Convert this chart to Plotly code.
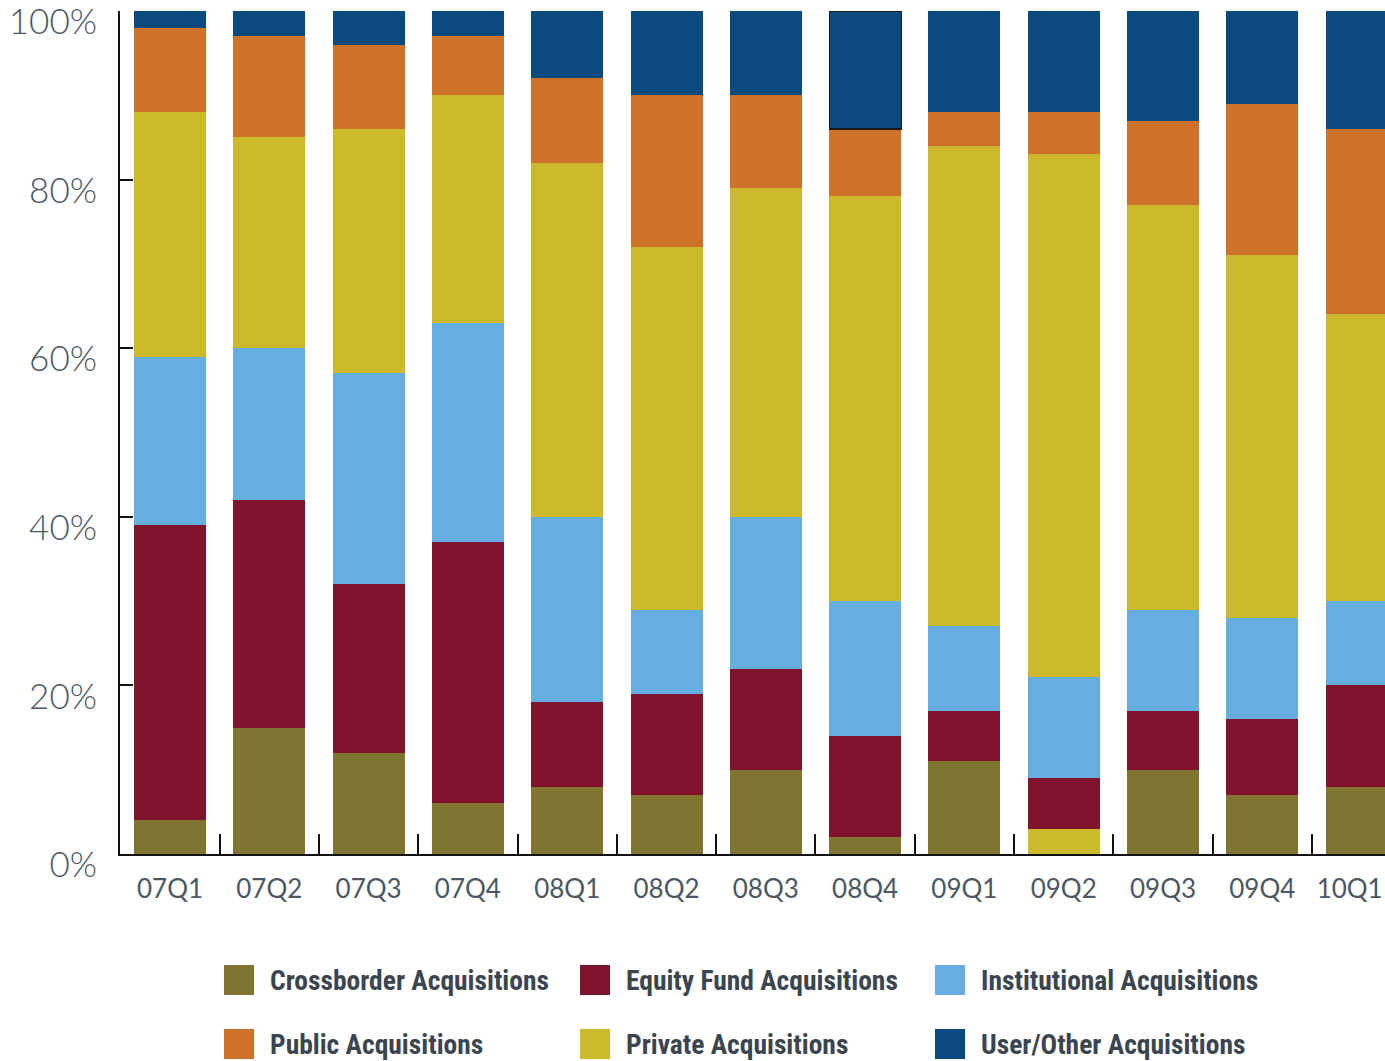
import plotly.graph_objects as go

quarters = ["07Q1", "07Q2", "07Q3", "07Q4", "08Q1", "08Q2", "08Q3", "08Q4",
            "09Q1", "09Q2", "09Q3", "09Q4", "10Q1"]

crossborder = [4, 15, 12, 6, 8, 7, 10, 2, 11, 3, 10, 7, 8]
equity_fund = [35, 27, 20, 31, 10, 12, 12, 12, 6, 6, 7, 9, 12]
institutional = [20, 18, 25, 26, 22, 10, 18, 16, 10, 12, 12, 12, 10]
private = [29, 25, 29, 27, 42, 43, 39, 48, 57, 62, 48, 43, 34]
public = [10, 12, 10, 7, 10, 18, 11, 8, 4, 5, 10, 18, 22]
user_other = [2, 3, 4, 3, 8, 10, 10, 14, 12, 12, 13, 11, 14]

series_names = ["Crossborder Acquisitions", "Equity Fund Acquisitions",
                "Institutional Acquisitions", "Public Acquisitions",
                "Private Acquisitions", "User/Other Acquisitions"]
colors = ["#7f7430", "#7f142c", "#66aee0", "#ce722a", "#cdba2c", "#0b4a7e"]

y_ticks = [0, 20, 40, 60, 80, 100]

W, H = 1385, 1061
L, R, T, B = 120, 0, 11, 207
PW, PH = W - L - R, H - T - B
STEP = 99.3  # px per category in the original

fig = go.Figure()

stack = [
    ("Crossborder Acquisitions", crossborder, colors[0]),
    ("Equity Fund Acquisitions", equity_fund, colors[1]),
    ("Institutional Acquisitions", institutional, colors[2]),
    ("Private Acquisitions", private, colors[4]),
    ("Public Acquisitions", public, colors[3]),
    ("User/Other Acquisitions", user_other, colors[5]),
]
for name, vals, col in stack:
    marker = dict(color=col, line=dict(width=0))
    if name == "Crossborder Acquisitions":
        marker["color"] = [colors[4] if q == "09Q2" else col for q in quarters]
    if name == "User/Other Acquisitions":
        marker["line"] = dict(color="#1a1a1a",
                              width=[1.2 if q == "08Q4" else 0 for q in quarters])
    fig.add_trace(go.Bar(x=quarters, y=vals, name=name, marker=marker,
                         showlegend=False))

def px_x(p):
    return (p - L) / PW

def px_y(p):
    return (H - B - p) / PH

legend_cols = [224, 580, 935]
legend_rows = [980, 1044]
sw = 30
for i, (name, col) in enumerate(zip(series_names, colors)):
    cx = legend_cols[i % 3]
    cy = legend_rows[i // 3]
    fig.add_shape(type="rect", xref="paper", yref="paper",
                  x0=px_x(cx), x1=px_x(cx + sw),
                  y0=px_y(cy - sw / 2), y1=px_y(cy + sw / 2),
                  fillcolor=col, line=dict(width=0))
    fig.add_annotation(text=name, xref="paper", yref="paper",
                       x=px_x(cx + 43.5), y=px_y(cy), xanchor="left", yanchor="middle",
                       showarrow=False,
                       font=dict(family="Roboto Condensed, Roboto, sans-serif",
                                 size=27.5, color="#3a4550", weight="bold"))

label_font = dict(family="Lato", color="#4b5763")
r0 = -50 / STEP

# label positions: category centres, the last one nudged left to stay inside the page
label_pos = list(range(len(quarters)))
label_pos[-1] = label_pos[-1] - 0.12
boundaries = [i + 0.5 for i in range(len(quarters) - 1)]

fig.update_layout(
    width=W, height=H,
    margin=dict(l=L, r=R, t=T, b=B, pad=0, autoexpand=False),
    barmode="stack",
    bargap=0.275,
    plot_bgcolor="white",
    paper_bgcolor="white",
    showlegend=False,
    xaxis=dict(
        range=[r0, r0 + PW / STEP],
        automargin=False,
        showgrid=False,
        showline=True, linecolor="#111111", linewidth=2,
        tickmode="array", tickvals=label_pos, ticktext=quarters,
        ticks="",
        minor=dict(tickmode="array", tickvals=boundaries, ticks="inside",
                   ticklen=20, tickwidth=2, tickcolor="#111111", showgrid=False),
        tickfont=dict(size=26, **label_font),
        ticklabelstandoff=11,
        fixedrange=True,
    ),
    yaxis=dict(
        range=[0, 100],
        automargin=False,
        tickvals=y_ticks,
        ticktext=[f"{v}%" for v in y_ticks],
        showgrid=False, zeroline=False,
        showline=True, linecolor="#111111", linewidth=2,
        ticks="inside", ticklen=13, tickwidth=2, tickcolor="#111111",
        tickfont=dict(size=35, weight=300, **label_font),
        ticklabelstandoff=14,
        ticklabelshift=11,
        ticklabeloverflow="allow",
        fixedrange=True,
    ),
)

fig.write_html("out.html")
